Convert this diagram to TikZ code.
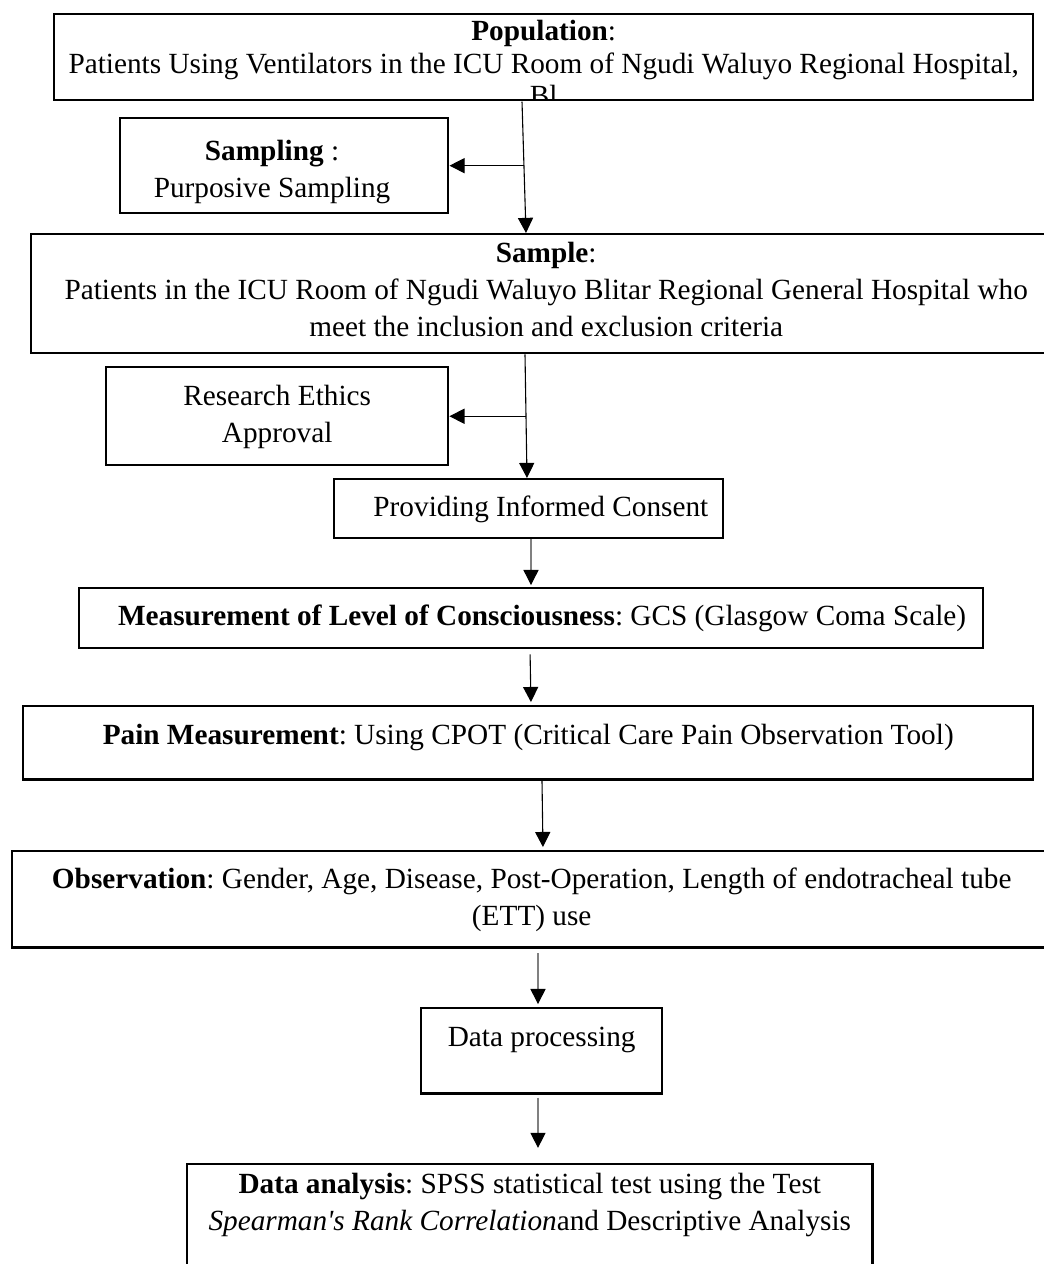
\documentclass[tikz,border=0pt]{standalone}
\usepackage{fontspec}
\setmainfont{Liberation Serif}
\usepackage{tikz}
\usetikzlibrary{arrows.meta}
\definecolor{linegrey}{HTML}{808080}
\tikzset{
  box/.style={draw=black, line width=1pt, anchor=north west, align=flush center,
              inner sep=0pt, font=\fontsize{12}{15.2}\selectfont\frenchspacing},
  flow/.style={-{Triangle[length=6.2pt,width=6.2pt,color=black]}, line width=0.45pt,
               draw=black},
  greyflow/.style={flow, draw=linegrey},
}

\begin{document}
\begin{tikzpicture}[x=0.41pt, y=-0.41pt]
\useasboundingbox (0,0) rectangle (1044,1264);
\clip (0,0) rectangle (1044,1264);

% ---------------- population (last line runs under the frame) -----------
\begin{scope}
  \clip (40,0) rectangle (1044,100.5);
  \node[box, text width=401.4pt, text height=10.7pt, text depth=24.6pt] (pop) at (53,13)
    {\textbf{Population}:\\[-1.5pt]
     Patients Using Ventilators in the ICU Room of Ngudi Waluyo Regional Hospital,\\[-2pt]
     Bl};
\end{scope}

% ---------------- sampling and sample -------------------------------------
\node[box, text width=134.5pt, text height=17.2pt, text depth=21.7pt] (sampling) at (119,117)
  {\hspace*{-10pt}\textbf{Sampling} :\\ \hspace*{-10pt}Purposive Sampling};
\node[box, text width=422.3pt, text height=11.5pt, text depth=37.3pt] (sample) at (30,233)
  {\textbf{Sample}:\\
   Patients in the ICU Room of Ngudi Waluyo Blitar Regional General Hospital who\\
   meet the inclusion and exclusion criteria};

% ---------------- ethics and consent --------------------------------------
\node[box, text width=140.2pt, text height=15.6pt, text depth=24.6pt] (ethics) at (105,366)
  {Research Ethics\\ Approval};
\node[box, text width=159.5pt, text height=15.2pt, text depth=9pt] (consent) at (333,478)
  {\hspace*{10pt}Providing Informed Consent};

% ---------------- measurements --------------------------------------------
\node[box, text width=370.6pt, text height=15.2pt, text depth=9.4pt] (gcs) at (78,587)
  {\hspace*{9pt}\textbf{Measurement of Level of Consciousness}: GCS (Glasgow Coma Scale)};
\node[box, text width=414.1pt, text height=15.6pt, text depth=14.4pt] (pain) at (22,705)
  {\textbf{Pain Measurement}: Using CPOT (Critical Care Pain Observation Tool)};
\node[box, text width=426pt, text height=15.2pt, text depth=24.2pt] (obs) at (11,850)
  {\textbf{Observation}: Gender, Age, Disease, Post-Operation, Length of endotracheal tube\\
   (ETT) use};

% ---------------- processing and analysis ---------------------------------
\node[box, text width=98.8pt, text height=15.6pt, text depth=19.3pt] (proc) at (420,1007)
  {Data processing};
\node[box, text width=280.9pt, text height=11.9pt, text depth=40.2pt] (analysis) at (186,1163)
  {\textbf{Data analysis}: SPSS statistical test using the Test\\
   \textit{Spearman\textquotesingle s Rank Correlation}and Descriptive Analysis};

% ---------------- connectors ----------------------------------------------
\draw[flow] (pop.south -| 522,0) -- (sample.north -| 526,0);
\draw[flow] (sampling.east -| 524,0) -- (sampling.east);
\draw[flow] (sample.south -| 525,0) -- (consent.north -| 527,0);
\draw[flow] (ethics.east -| 526,0) -- (ethics.east);
\draw[greyflow, shorten >=0.8pt] (consent.south -| 531,0) -- (gcs.north -| 531,0);
\draw[flow, shorten <=2pt, shorten >=1.2pt] (gcs.south -| 530,0) -- (pain.north -| 531,0);
\draw[flow, shorten >=1.2pt] (pain.south -| 542,0) -- (obs.north -| 543,0);
\draw[greyflow, shorten <=2pt, shorten >=1.2pt] (obs.south -| 538,0) -- (proc.north -| 538,0);
\draw[greyflow, shorten <=1.2pt, shorten >=6.2pt] (proc.south -| 538,0) -- (analysis.north -| 538,0);
\end{tikzpicture}
\end{document}
